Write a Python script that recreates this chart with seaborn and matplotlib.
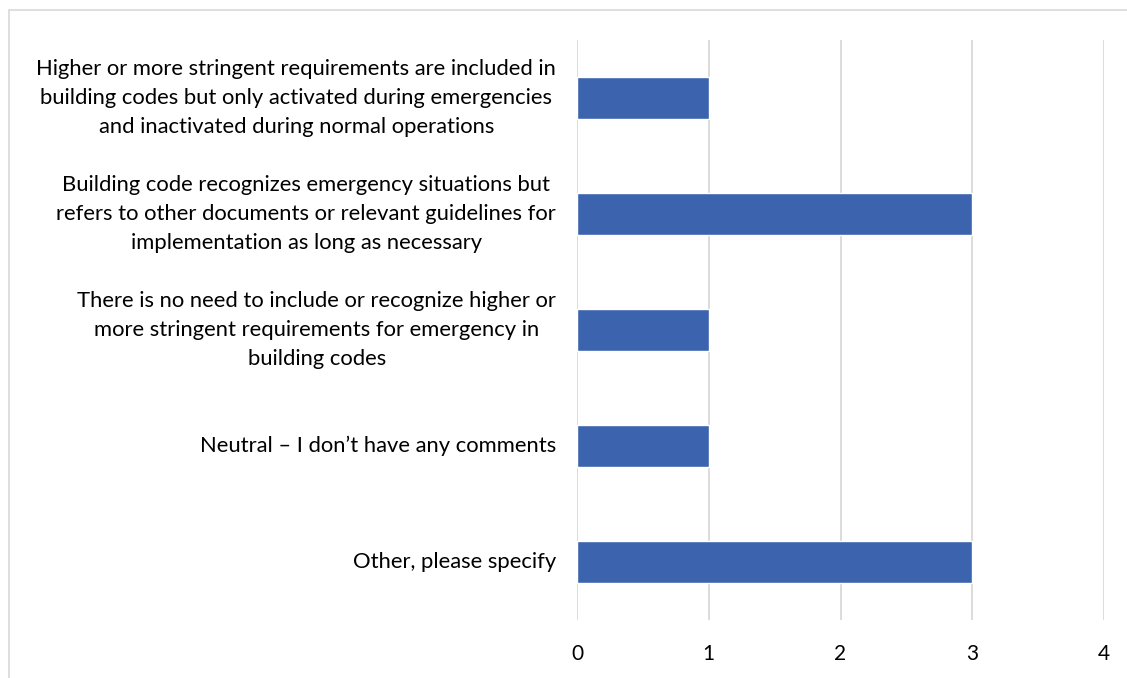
import matplotlib
matplotlib.use("Agg")
import matplotlib.pyplot as plt
import seaborn as sns
import pandas as pd
from matplotlib.patches import Rectangle

categories = [
    "Higher or more stringent requirements are included in\nbuilding codes but only activated during emergencies\nand inactivated during normal operations",
    "Building code recognizes emergency situations but\nrefers to other documents or relevant guidelines for\nimplementation as long as necessary",
    "There is no need to include or recognize higher or\nmore stringent requirements for emergency in\nbuilding codes",
    "Neutral \u2013 I don\u2019t have any comments",
    "Other, please specify",
]
values = [1, 3, 1, 1, 3]
xticks = [0, 1, 2, 3, 4]

df = pd.DataFrame({"category": categories, "value": values})

sns.set_theme(style="white")
plt.rcParams['font.family'] = ['Lato', 'DejaVu Sans']

fig = plt.figure(figsize=(11.27, 6.78), dpi=100)
ax = fig.add_axes([577/1127, 1-620/678, (1104-577)/1127, (620-40)/678])

sns.barplot(data=df, x="value", y="category", color="#3C64AE", width=0.37,
            saturation=1, ax=ax, orient="h")

ax.set_xlim(0, 4)
ax.set_ylim(4.5, -0.5)
ax.set_xticks(xticks)
ax.set_xticklabels([str(t) for t in xticks], fontsize=15, color="#000000")
ax.xaxis.grid(True, color="#D9D9D9", linewidth=1.3)
ax.set_axisbelow(True)
for s in ax.spines.values():
    s.set_visible(False)
ax.set_xlabel("")
ax.set_ylabel("")
ax.tick_params(axis='x', length=0, pad=17)
ax.tick_params(axis='y', length=0, pad=15)
for lbl in ax.get_yticklabels():
    lbl.set_fontsize(15.8)
    lbl.set_multialignment('center')
    lbl.set_verticalalignment('center')
    lbl.set_color("#000000")
    lbl.set_linespacing(1.55)

fig.patches.append(Rectangle((9/1127, -0.1), 1.2, 1.1 - 10/678, transform=fig.transFigure,
                             fill=False, edgecolor="#D9D9D9", linewidth=1.2))

fig.savefig("out.png", dpi=100)
